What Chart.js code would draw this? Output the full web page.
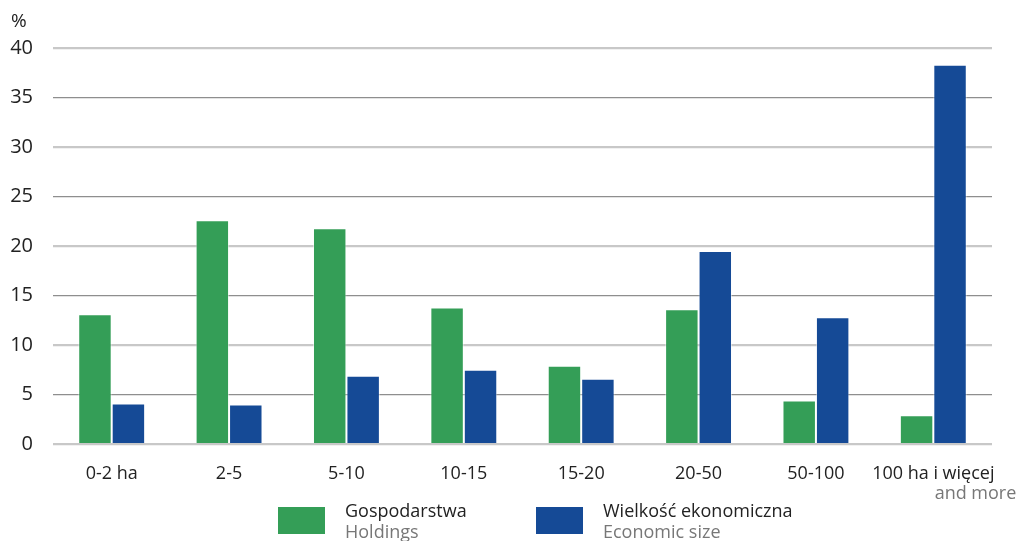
<!DOCTYPE html>
<html>
<head>
<meta charset="utf-8">
<script src="https://cdn.jsdelivr.net/npm/chart.js@4"></script>
<style>
  html, body { margin: 0; padding: 0; background: #fff; }
  #wrap { position: relative; width: 1019px; height: 541px; font-family: "Open Sans", sans-serif; }
  canvas { position: absolute; left: 0; top: 0; }
  .leg { position: absolute; top: 500px; }
  .leg .box { position: absolute; left: 0; top: 7px; width: 47px; height: 27px; }
  .leg .pl { position: absolute; left: 67px; top: 0; font-size: 18px; color: #222; white-space: nowrap; line-height: 21px; }
  .leg .en { position: absolute; left: 67px; top: 21px; font-size: 18px; color: #777; white-space: nowrap; line-height: 21px; }
</style>
</head>
<body>
<div id="wrap">
  <canvas id="chart" width="1019" height="541"></canvas>
  <div class="leg" style="left:278px"><div class="box" style="background:#349e57"></div><div class="pl">Gospodarstwa</div><div class="en">Holdings</div></div>
  <div class="leg" style="left:536px"><div class="box" style="background:#154a96"></div><div class="pl">Wielkość ekonomiczna</div><div class="en">Economic size</div></div>
</div>
<script>
// categories and values
const categories = ['0-2 ha', '2-5', '5-10', '10-15', '15-20', '20-50', '50-100', '100 ha i więcej'];
const holdings = [13.1, 22.6, 21.8, 13.8, 7.9, 13.6, 4.4, 2.9];
const economicSize = [4.1, 4.0, 6.9, 7.5, 6.6, 19.5, 12.8, 38.3];
const yTicks = [0, 5, 10, 15, 20, 25, 30, 35, 40];

const GREEN = '#349e57';
const BLUE = '#154a96';

// extra texts: "%" above the y axis and "and more" under the last label
const extraText = {
  id: 'extraText',
  afterDraw(chart) {
    const ctx = chart.ctx;
    const x = chart.scales.x;
    ctx.save();
    ctx.font = '19px "Open Sans", sans-serif';
    ctx.fillStyle = '#222';
    ctx.textAlign = 'left';
    ctx.textBaseline = 'middle';
    ctx.fillText('%', 11, 22);
    ctx.font = '18px "Open Sans", sans-serif';
    ctx.fillStyle = '#777';
    ctx.textAlign = 'right';
    const last = x.getPixelForValue(categories.length - 1);
    ctx.fillText('and more', last + 83, 494);
    ctx.restore();
  }
};

new Chart(document.getElementById('chart'), {
  type: 'bar',
  data: {
    labels: categories,
    datasets: [
      {
        label: 'Gospodarstwa',
        data: holdings,
        backgroundColor: GREEN,
        borderColor: 'rgba(255,255,255,0.5)',
        borderWidth: 1,
        categoryPercentage: 0.57,
        barPercentage: 1.0
      },
      {
        label: 'Wielkość ekonomiczna',
        data: economicSize,
        backgroundColor: BLUE,
        borderColor: 'rgba(255,255,255,0.5)',
        borderWidth: 1,
        categoryPercentage: 0.57,
        barPercentage: 1.0
      }
    ]
  },
  options: {
    responsive: false,
    animation: false,
    layout: { padding: { top: 48, right: 27, left: 0, bottom: 0 } },
    plugins: {
      legend: { display: false },
      tooltip: { enabled: false }
    },
    scales: {
      x: {
        grid: { display: false, drawTicks: false },
        border: { display: false },
        ticks: {
          color: '#222',
          padding: 19,
          maxRotation: 0,
          autoSkip: false,
          font: { family: '"Open Sans", sans-serif', size: 18 }
        },
        afterFit(scale) { scale.height = 97; }
      },
      y: {
        min: 0,
        max: 40,
        afterBuildTicks(scale) { scale.ticks = yTicks.map(v => ({ value: v })); },
        grid: {
          drawTicks: false,
          color: ctx => (ctx.tick && ctx.tick.value % 10 === 0) ? '#c8c8c8' : '#8e8e8e',
          lineWidth: ctx => (ctx.tick && ctx.tick.value % 10 === 0) ? 2.2 : 1.2
        },
        border: { display: false },
        ticks: {
          color: '#222',
          padding: 20,
          font: { family: '"Open Sans", sans-serif', size: 20 }
        },
        afterFit(scale) { scale.width = 53; }
      }
    }
  },
  plugins: [extraText]
});
</script>
</body>
</html>
